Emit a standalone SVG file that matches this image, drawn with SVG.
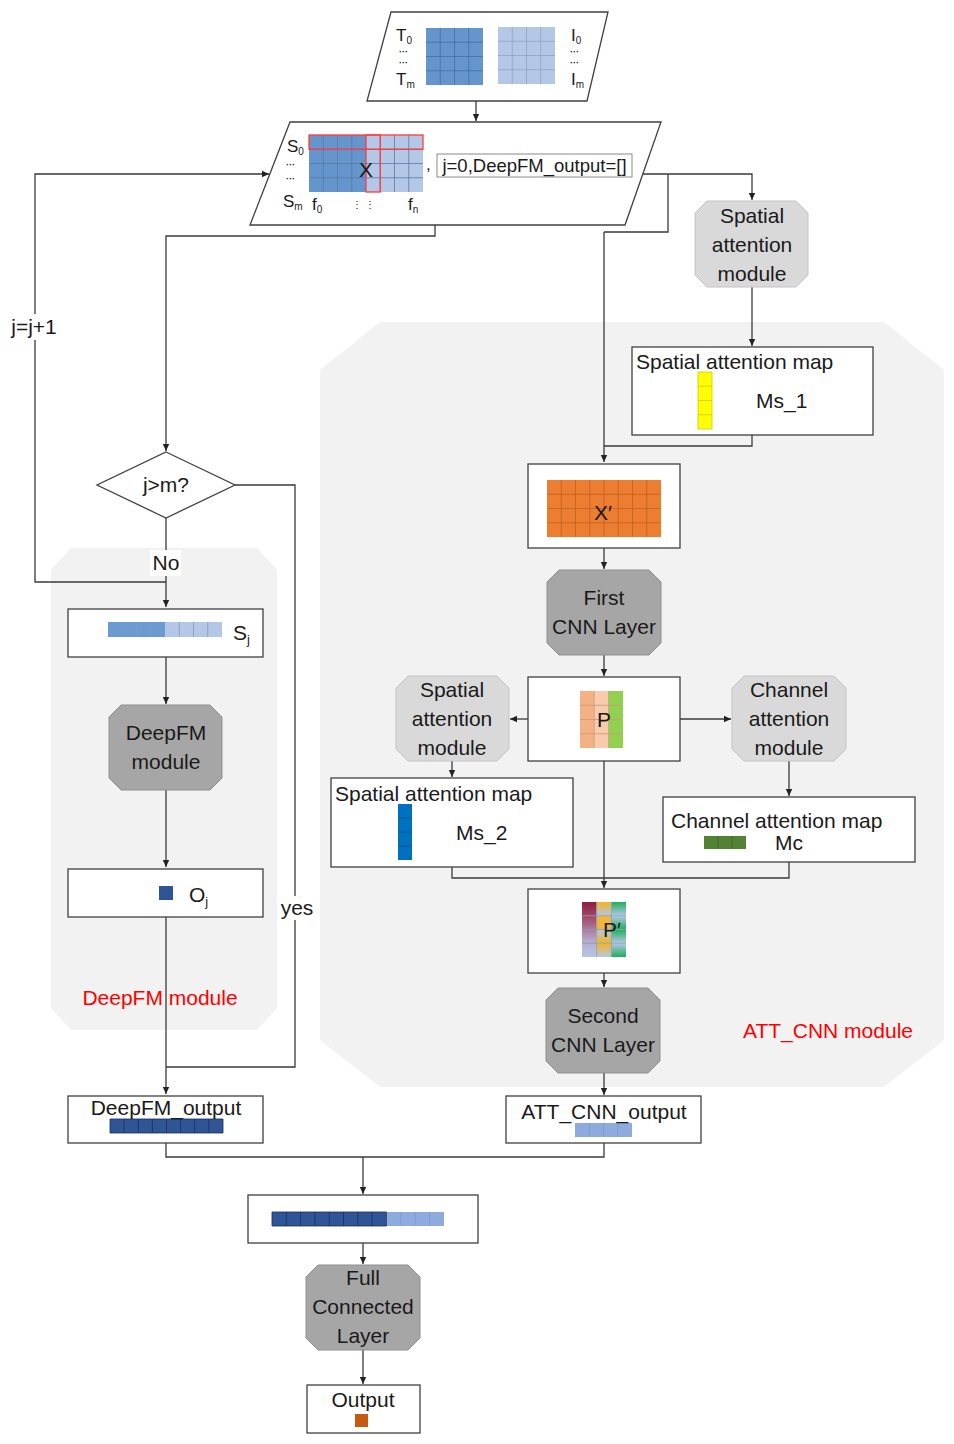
<svg xmlns="http://www.w3.org/2000/svg" width="954" height="1444" viewBox="0 0 954 1444">
<style>
.t{font-family:"Liberation Sans",Arial,sans-serif;font-size:21px;fill:#1a1a1a}
.s{font-family:"Liberation Sans",Arial,sans-serif;font-size:17px;fill:#1a1a1a}
.sub{font-family:"Liberation Sans",Arial,sans-serif;font-size:10px;fill:#1a1a1a}
.dots{font-family:"Liberation Sans",Arial,sans-serif;font-size:9px;font-weight:bold;fill:#1a1a1a}
.red{font-family:"Liberation Sans",Arial,sans-serif;font-size:21px;fill:#ff0000}
.box{fill:#ffffff;stroke:#404040;stroke-width:1.3}
.dark{fill:#a6a6a6;stroke:#8f8f8f;stroke-width:1}
.light{fill:#d9d9d9;stroke:#c4c4c4;stroke-width:1}
.bg{fill:#f2f2f2;stroke:none}
.c{fill:none;stroke:#3a3a3a;stroke-width:1.3}
.ca{fill:none;stroke:#3a3a3a;stroke-width:1.3;marker-end:url(#ah)}
.gl{stroke-width:0.8;fill:none}
</style>
<defs>
<marker id="ah" markerWidth="8" markerHeight="8" refX="7" refY="4" orient="auto" markerUnits="userSpaceOnUse"><path d="M0,0.8 L7,4 L0,7.2z" fill="#222"/></marker>
<linearGradient id="pc1" x1="0" y1="0" x2="0" y2="1"><stop offset="0" stop-color="#8e1c3e"/><stop offset="0.35" stop-color="#a35a7a"/><stop offset="0.7" stop-color="#b5a9cc"/><stop offset="1" stop-color="#b4c7e7"/></linearGradient>
<linearGradient id="gd" x1="0" y1="0" x2="0" y2="1"><stop offset="0" stop-color="#f2b61f"/><stop offset="1" stop-color="#b4c7e7"/></linearGradient>
<linearGradient id="gu" x1="0" y1="0" x2="0" y2="1"><stop offset="0" stop-color="#b4c7e7"/><stop offset="1" stop-color="#f2b61f"/></linearGradient>
<linearGradient id="nd" x1="0" y1="0" x2="0" y2="1"><stop offset="0" stop-color="#1fae5c"/><stop offset="1" stop-color="#b4c7e7"/></linearGradient>
<linearGradient id="nu" x1="0" y1="0" x2="0" y2="1"><stop offset="0" stop-color="#b4c7e7"/><stop offset="1" stop-color="#1fae5c"/></linearGradient>
</defs>
<rect x="0" y="0" width="954" height="1444" fill="#ffffff"/>

<!-- background module regions -->
<g id="att-cnn-region">
<polygon class="bg" points="380,322 884,322 944,370 944,1040 884,1087 380,1087 320,1040 320,370"/>
<text class="red" x="828" y="1038" text-anchor="middle">ATT_CNN module</text>
</g>
<g id="deepfm-region">
<polygon class="bg" points="71,548 257,548 277,570 277,1008 257,1030 71,1030 51,1008 51,570"/>
</g>

<!-- connectors -->
<g id="connectors">
<path class="ca" d="M476,101 V121"/>
<path class="ca" d="M166,582 H35 V174 H269"/>
<path class="ca" d="M435,225 V236 H166 V451"/>
<path class="ca" d="M166,518 V607"/>
<path class="c" d="M235,485 H295 V1067 H166"/>
<path class="ca" d="M166,657 V704"/>
<path class="ca" d="M166,790 V867"/>
<path class="ca" d="M166,917 V1094"/>
<path class="ca" d="M643,174 H752 V200"/>
<path class="c" d="M668,174 V232 H604"/>
<path class="ca" d="M604,232 V462"/>
<path class="ca" d="M752,287 V346"/>
<path class="c" d="M752,435 V446 H604"/>
<path class="ca" d="M604,548 V569"/>
<path class="ca" d="M604,655 V676"/>
<path class="ca" d="M528,719 H510"/>
<path class="ca" d="M680,719 H731"/>
<path class="ca" d="M452,761 V777"/>
<path class="ca" d="M789,761 V796"/>
<path class="c" d="M452,867 V878 H789 V862"/>
<path class="ca" d="M604,761 V888"/>
<path class="ca" d="M604,973 V987"/>
<path class="ca" d="M604,1073 V1095"/>
<path class="c" d="M166,1143 V1157 H604 V1143"/>
<path class="ca" d="M363,1157 V1194"/>
<path class="ca" d="M363,1243 V1264"/>
<path class="ca" d="M363,1350 V1384"/>
<rect x="12" y="314" width="45" height="26" fill="#ffffff"/>
<text class="t" x="34" y="334" text-anchor="middle">j=j+1</text>
<rect x="150" y="550" width="31" height="26" fill="#ffffff"/>
<text class="t" x="166" y="570" text-anchor="middle">No</text>
<rect x="280" y="896" width="34" height="24" fill="#ffffff"/>
<text class="t" x="297" y="915" text-anchor="middle">yes</text>
</g>

<!-- input T / I -->
<g id="input">
<polygon class="box" points="391,12 608,12 587,101 367,101"/>
<text class="s" x="396" y="41">T<tspan class="sub" dy="3">0</tspan></text>
<text class="dots" x="399" y="55">···</text>
<text class="dots" x="399" y="66">···</text>
<text class="s" x="396" y="85">T<tspan class="sub" dy="3">m</tspan></text>
<rect x="426" y="28" width="57" height="57" fill="#6495cd"/>
<g class="gl" stroke="#4a6f9c">
<path d="M440.25,28 V85 M454.5,28 V85 M468.75,28 V85 M426,42.25 H483 M426,56.5 H483 M426,70.75 H483"/>
</g>
<rect x="498" y="27" width="57" height="57" fill="#b4c7e7"/>
<g class="gl" stroke="#8ea3c4">
<path d="M512.25,27 V84 M526.5,27 V84 M540.75,27 V84 M498,41.25 H555 M498,55.5 H555 M498,69.75 H555"/>
</g>
<text class="s" x="571" y="41">I<tspan class="sub" dy="3">0</tspan></text>
<text class="dots" x="570" y="55">···</text>
<text class="dots" x="570" y="66">···</text>
<text class="s" x="571" y="85">I<tspan class="sub" dy="3">m</tspan></text>
</g>

<!-- input S / X -->
<g id="input-x">
<polygon class="box" points="290,122 661,122 625,225 250,225"/>
<text class="s" x="287" y="152">S<tspan class="sub" dy="3">0</tspan></text>
<text class="dots" x="286" y="168">···</text>
<text class="dots" x="286" y="182">···</text>
<text class="s" x="283" y="207">S<tspan class="sub" dy="3">m</tspan></text>
<text class="s" x="312" y="210">f<tspan class="sub" dy="3">0</tspan></text>
<text class="sub" x="352" y="208">⋮ ⋮</text>
<text class="s" x="408" y="210">f<tspan class="sub" dy="3">n</tspan></text>
<rect x="309" y="135" width="57" height="57" fill="#6495cd"/>
<rect x="366" y="135" width="57" height="57" fill="#b4c7e7"/>
<g class="gl" stroke="#5a7aa6">
<path d="M323.25,135 V192 M337.5,135 V192 M351.75,135 V192 M380.25,135 V192 M394.5,135 V192 M408.75,135 V192 M309,149.25 H423 M309,163.5 H423 M309,177.75 H423"/>
</g>
<rect x="309" y="135" width="114" height="14.25" fill="none" stroke="#ff3b3b" stroke-width="1.3"/>
<rect x="366" y="135" width="14.25" height="57" fill="none" stroke="#ff3b3b" stroke-width="1.3"/>
<text class="t" x="366" y="177" text-anchor="middle">X</text>
<text class="s" x="426" y="170">,</text>
<rect x="437" y="154" width="195" height="23" fill="#ffffff" stroke="#8a8a8a" stroke-width="1"/>
<text class="s" x="534.5" y="172" text-anchor="middle" style="font-size:18.5px">j=0,DeepFM_output=[]</text>
</g>

<!-- decision -->
<g id="decision">
<polygon class="box" points="166,452 235,485 166,518 97,485"/>
<text class="t" x="166" y="492" text-anchor="middle">j&gt;m?</text>
</g>

<!-- DeepFM branch -->
<g id="sj">
<rect class="box" x="68" y="609" width="195" height="48"/>
<rect x="108" y="622" width="57" height="15" fill="#6c9bd2"/>
<rect x="165" y="622" width="57" height="15" fill="#b4c7e7"/>
<g class="gl" stroke="#7f9bc4">
<path d="M122.25,622 V637 M136.5,622 V637 M150.75,622 V637 M179.25,622 V637 M193.5,622 V637 M207.75,622 V637"/>
</g>
<text class="t" x="233" y="640">S<tspan class="sub" dy="4" style="font-size:13px">j</tspan></text>
</g>
<g id="deepfm">
<polygon class="dark" points="121,705 210,705 222,717 222,778 210,790 121,790 109,778 109,717"/>
<text class="t" x="166" y="740" text-anchor="middle">DeepFM</text>
<text class="t" x="166" y="769" text-anchor="middle">module</text>
</g>
<g id="oj">
<rect class="box" x="68" y="869" width="195" height="48"/>
<rect x="159" y="886" width="14" height="14" fill="#2f5597"/>
<text class="t" x="189" y="902">O<tspan class="sub" dy="4" style="font-size:13px">j</tspan></text>
</g>
<text class="red" x="160" y="1005" text-anchor="middle">DeepFM module</text>

<!-- ATT_CNN branch -->
<g id="spatial-att-1">
<polygon class="light" points="707,201 796,201 808,213 808,275 796,287 707,287 695,275 695,213"/>
<text class="t" x="752" y="223" text-anchor="middle">Spatial</text>
<text class="t" x="752" y="252" text-anchor="middle">attention</text>
<text class="t" x="752" y="281" text-anchor="middle">module</text>
</g>
<g id="spatial-map-1">
<rect class="box" x="632" y="347" width="241" height="88"/>
<text class="t" x="636" y="369">Spatial attention map</text>
<rect x="698" y="372" width="14" height="57" fill="#ffff00" stroke="#d8c800" stroke-width="0.8"/>
<path class="gl" stroke="#d8c800" d="M698,386.25 H712 M698,400.5 H712 M698,414.75 H712"/>
<text class="t" x="756" y="408">Ms_1</text>
</g>
<g id="x-prime">
<rect class="box" x="528" y="464" width="152" height="84"/>
<rect x="547" y="480" width="114" height="57" fill="#ed7d31"/>
<g class="gl" stroke="#c0621f">
<path d="M561.25,480 V537 M575.5,480 V537 M589.75,480 V537 M604,480 V537 M618.25,480 V537 M632.5,480 V537 M646.75,480 V537 M547,494.25 H661 M547,508.5 H661 M547,522.75 H661"/>
</g>
<text class="t" x="603" y="520" text-anchor="middle">X′</text>
</g>
<g id="first-cnn">
<polygon class="dark" points="559,570 649,570 661,582 661,643 649,655 559,655 547,643 547,582"/>
<text class="t" x="604" y="605" text-anchor="middle">First</text>
<text class="t" x="604" y="634" text-anchor="middle">CNN Layer</text>
</g>
<g id="p">
<rect class="box" x="528" y="677" width="152" height="84"/>
<rect x="580" y="691" width="14.3" height="57" fill="#f4b183"/>
<rect x="594.3" y="691" width="14.3" height="57" fill="#f8cbad"/>
<rect x="608.6" y="691" width="14.4" height="57" fill="#92d050"/>
<g class="gl" stroke="#c99a7a">
<path d="M594.3,691 V748 M608.6,691 V748 M580,705.25 H623 M580,719.5 H623 M580,733.75 H623"/>
</g>
<text class="t" x="604" y="727" text-anchor="middle">P</text>
</g>
<g id="spatial-att-2">
<polygon class="light" points="408,676 497,676 509,688 509,749 497,761 408,761 396,749 396,688"/>
<text class="t" x="452" y="697" text-anchor="middle">Spatial</text>
<text class="t" x="452" y="726" text-anchor="middle">attention</text>
<text class="t" x="452" y="755" text-anchor="middle">module</text>
</g>
<g id="channel-att">
<polygon class="light" points="744,676 834,676 846,688 846,749 834,761 744,761 732,749 732,688"/>
<text class="t" x="789" y="697" text-anchor="middle">Channel</text>
<text class="t" x="789" y="726" text-anchor="middle">attention</text>
<text class="t" x="789" y="755" text-anchor="middle">module</text>
</g>
<g id="spatial-map-2">
<rect class="box" x="331" y="778" width="242" height="89"/>
<text class="t" x="335" y="801">Spatial attention map</text>
<rect x="398" y="804" width="14" height="56" fill="#0070c0"/>
<path class="gl" stroke="#00508a" d="M398,818 H412 M398,832 H412 M398,846 H412"/>
<text class="t" x="456" y="840">Ms_2</text>
</g>
<g id="channel-map">
<rect class="box" x="663" y="797" width="252" height="65"/>
<text class="t" x="671" y="828">Channel attention map</text>
<rect x="704" y="836" width="42" height="13" fill="#548235"/>
<path class="gl" stroke="#3f6227" d="M718,836 V849 M732,836 V849"/>
<text class="t" x="775" y="850">Mc</text>
</g>
<g id="p-prime">
<rect class="box" x="528" y="889" width="152" height="84"/>
<rect x="582" y="902" width="14.7" height="55" fill="url(#pc1)"/>
<rect x="596.7" y="902" width="14.7" height="13.75" fill="url(#gd)"/>
<rect x="596.7" y="915.75" width="14.7" height="13.75" fill="#f0b83a"/>
<rect x="596.7" y="929.5" width="14.7" height="13.75" fill="url(#gu)"/>
<rect x="596.7" y="943.25" width="14.7" height="13.75" fill="url(#gd)"/>
<rect x="611.4" y="902" width="14.6" height="13.75" fill="url(#nd)"/>
<rect x="611.4" y="915.75" width="14.6" height="13.75" fill="url(#nu)"/>
<rect x="611.4" y="929.5" width="14.6" height="13.75" fill="url(#nd)"/>
<rect x="611.4" y="943.25" width="14.6" height="13.75" fill="url(#nu)"/>
<g class="gl" stroke="#8d9bb5">
<path d="M596.7,902 V957 M611.4,902 V957 M582,915.75 H626 M582,929.5 H626 M582,943.25 H626"/>
</g>
<text class="t" x="612" y="937" text-anchor="middle">P′</text>
</g>
<g id="second-cnn">
<polygon class="dark" points="558,988 648,988 660,1000 660,1061 648,1073 558,1073 546,1061 546,1000"/>
<text class="t" x="603" y="1023" text-anchor="middle">Second</text>
<text class="t" x="603" y="1052" text-anchor="middle">CNN Layer</text>
</g>

<!-- outputs -->
<g id="deepfm-output">
<rect class="box" x="68" y="1096" width="195" height="47"/>
<rect x="110" y="1119" width="113" height="14" fill="#2f5597"/>
<path class="gl" stroke="#1a2f55" d="M110,1119 H223 V1133 H110 Z M124.1,1119 V1133 M138.25,1119 V1133 M152.4,1119 V1133 M166.5,1119 V1133 M180.6,1119 V1133 M194.75,1119 V1133 M208.9,1119 V1133"/>
<text class="t" x="166" y="1115" text-anchor="middle">DeepFM_output</text>
</g>
<g id="att-cnn-output">
<rect class="box" x="506" y="1096" width="195" height="47"/>
<rect x="575" y="1123" width="57" height="14" fill="#8faadc"/>
<path class="gl" stroke="#7d97c6" d="M589.25,1123 V1137 M603.5,1123 V1137 M617.75,1123 V1137"/>
<text class="t" x="604" y="1119" text-anchor="middle">ATT_CNN_output</text>
</g>
<g id="concat">
<rect class="box" x="248" y="1195" width="230" height="48"/>
<rect x="272" y="1212" width="114.4" height="14" fill="#2f5597"/>
<rect x="386.4" y="1212" width="57.6" height="14" fill="#8faadc"/>
<path class="gl" stroke="#1a2f55" d="M272,1212 H386.4 V1226 H272 Z M286.3,1212 V1226 M300.6,1212 V1226 M314.9,1212 V1226 M329.2,1212 V1226 M343.5,1212 V1226 M357.8,1212 V1226 M372.1,1212 V1226"/>
<path class="gl" stroke="#7d97c6" d="M400.8,1212 V1226 M415.2,1212 V1226 M429.6,1212 V1226"/>
</g>
<g id="fc">
<polygon class="dark" points="318,1265 408,1265 420,1277 420,1338 408,1350 318,1350 306,1338 306,1277"/>
<text class="t" x="363" y="1285" text-anchor="middle">Full</text>
<text class="t" x="363" y="1314" text-anchor="middle">Connected</text>
<text class="t" x="363" y="1343" text-anchor="middle">Layer</text>
</g>
<g id="output">
<rect class="box" x="307" y="1385" width="113" height="48"/>
<text class="t" x="363" y="1407" text-anchor="middle">Output</text>
<rect x="355" y="1414" width="13" height="13" fill="#c55a11"/>
</g>
</svg>
